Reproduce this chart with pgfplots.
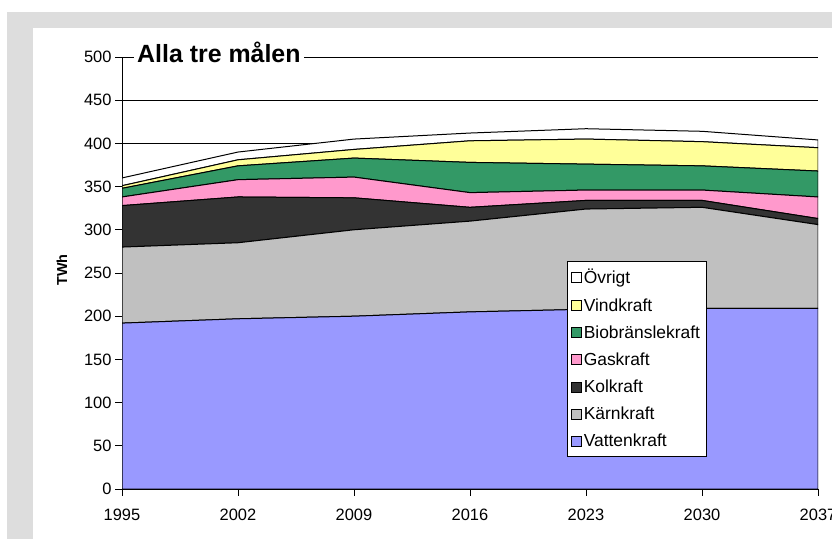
\documentclass[border=0pt]{standalone}
\usepackage{pgfplots}
\pgfplotsset{compat=1.18}
\usepackage{fontspec}
\setmainfont{Liberation Sans}
\definecolor{bggrey}{HTML}{DDDDDD}
\definecolor{vatten}{HTML}{9999FF}
\definecolor{karn}{HTML}{C0C0C0}
\definecolor{kol}{HTML}{333333}
\definecolor{gas}{HTML}{FF99CC}
\definecolor{bio}{HTML}{339966}
\definecolor{vind}{HTML}{FFFF99}
\begin{document}
\begin{tikzpicture}
\useasboundingbox (0,0) rectangle (832bp,539bp);
\fill[white] (0,0) rectangle (832bp,539bp);
\fill[bggrey] (7bp,0) rectangle (832bp,527bp);
\fill[white] (33bp,0) rectangle (832bp,511bp);
\begin{axis}[
  at={(122bp,50bp)}, anchor=south west,
  scale only axis, width=696bp, height=432bp,
  xmin=1995, xmax=2037, ymin=0, ymax=500,
  stack plots=y,
  axis x line*=bottom, axis y line*=left,
  xtick={1995,2002,2009,2016,2023,2030,2037},
  ytick={0,50,...,500},
  tick align=outside, major tick length=7bp,
  ymajorgrids, major grid style={black, line width=0.6bp},
  tick style={black, line width=0.8bp},
  axis line style={black, line width=0.9bp},
  /pgf/number format/assume math mode=true,
  /pgf/number format/1000 sep={},
  ticklabel style={font=\fontsize{16.5}{18}\selectfont},
  xticklabel style={yshift=-10bp},
  reverse legend,
  legend cell align=left,
  legend image code/.code={\draw[#1, draw=black, line width=0.6bp] (0bp,-5bp) rectangle (10bp,5bp);},
  legend style={at={(0.639,0.528)}, anchor=north west, draw=black, line width=0.8bp, fill=white,
    font=\fontsize{17.5}{19}\selectfont, row sep=11bp, inner xsep=4bp, inner ysep=7bp,
    nodes={inner xsep=2bp, inner ysep=1bp}},
  every axis plot/.append style={draw=black, line width=1bp},
]
\addplot[fill=vatten] coordinates {(1995,192) (2002,197) (2009,200) (2016,205) (2023,208) (2030,209) (2037,209)} \closedcycle;
\addlegendentry{Vattenkraft}
\addplot[fill=karn] coordinates {(1995,88) (2002,88) (2009,100) (2016,105) (2023,116) (2030,117) (2037,97)} \closedcycle;
\addlegendentry{Kärnkraft}
\addplot[fill=kol] coordinates {(1995,48) (2002,53) (2009,37) (2016,16) (2023,10) (2030,8) (2037,7)} \closedcycle;
\addlegendentry{Kolkraft}
\addplot[fill=gas] coordinates {(1995,10) (2002,20) (2009,24) (2016,17) (2023,12) (2030,12) (2037,25)} \closedcycle;
\addlegendentry{Gaskraft}
\addplot[fill=bio] coordinates {(1995,10) (2002,16) (2009,22) (2016,35) (2023,30) (2030,28) (2037,30)} \closedcycle;
\addlegendentry{Biobränslekraft}
\addplot[fill=vind] coordinates {(1995,3) (2002,7) (2009,10) (2016,25) (2023,29) (2030,28) (2037,27)} \closedcycle;
\addlegendentry{Vindkraft}
\addplot[fill=white] coordinates {(1995,9) (2002,9) (2009,12) (2016,9) (2023,12) (2030,12) (2037,9)} \closedcycle;
\addlegendentry{Övrigt}
\end{axis}
\node[anchor=base west, fill=white, inner xsep=3bp, inner ysep=3bp, font=\bfseries\fontsize{25}{29}\selectfont] at (134bp,476bp) {Alla tre målen};
\node[rotate=90, font=\bfseries\fontsize{14.5}{16}\selectfont] at (62bp,269bp) {TWh};
\end{tikzpicture}
\end{document}
